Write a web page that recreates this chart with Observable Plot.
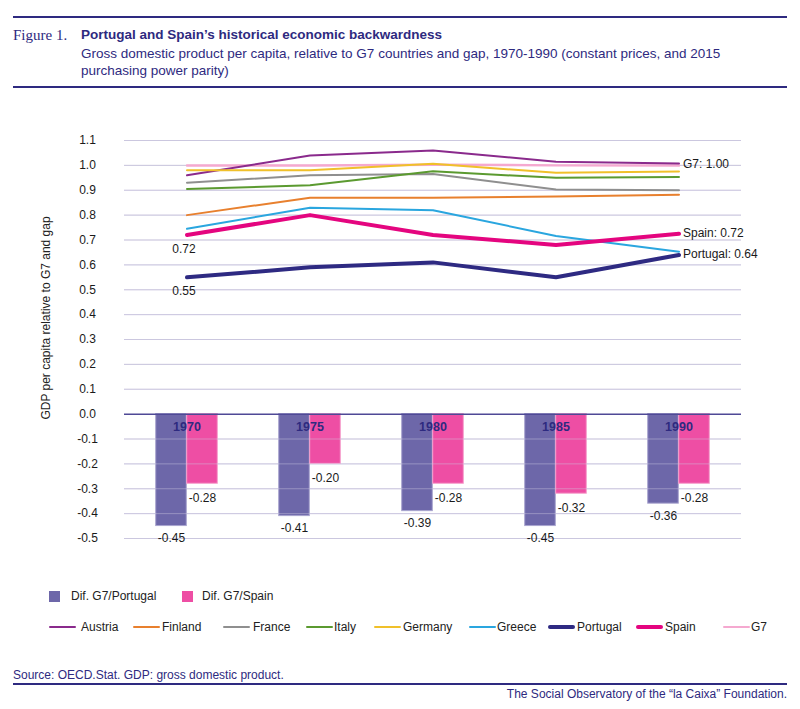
<!DOCTYPE html>
<html>
<head>
<meta charset="utf-8">
<script src="https://cdn.jsdelivr.net/npm/d3@7"></script>
<script src="https://cdn.jsdelivr.net/npm/@observablehq/plot@0.6"></script>
<style>
  html, body { margin: 0; padding: 0; background: #fff; }
  body { width: 800px; height: 709px; position: relative; overflow: hidden; font-family: "Liberation Sans", Arial, sans-serif; }
  .abs { position: absolute; white-space: nowrap; }
  .navy { color: #2e2a80; }
  .lg { position: absolute; font-size: 12px; line-height: 14px; color: #222; white-space: nowrap; }
  #chart { position: absolute; left: 0; top: 95px; }
  #header { position: absolute; left: 13px; top: 16px; width: 774px; height: 68px; border-top: 2px solid #2e2a80; border-bottom: 2px solid #2e2a80; }
</style>
</head>
<body>
<div id="header">
  <div class="abs navy" style="left:0px; top:8px; font-family:'Liberation Serif','DejaVu Serif',serif; font-size:15px; line-height:18px;">Figure 1.</div>
  <div class="abs navy" style="left:68px; top:8px; font-weight:bold; font-size:13.5px; line-height:18px;">Portugal and Spain’s historical economic backwardness</div>
  <div class="abs navy" style="left:68px; top:27px; font-size:13.5px; line-height:17px;">Gross domestic product per capita, relative to G7 countries and gap, 1970-1990 (constant prices, and 2015<br>purchasing power parity)</div>
</div>

<div class="abs" style="left:46px; top:318px; transform:translate(-50%,-50%) rotate(-90deg); font-size:12px; color:#222;">GDP per capita relative to G7 and gap</div>

<div id="chart"></div>
<div id="legend"></div>

<div class="abs navy" style="left:13px; top:668px; font-size:12px; line-height:14px;">Source: OECD.Stat. GDP: gross domestic product.</div>
<div style="position:absolute; left:13px; top:683px; width:774px; height:0; border-top:2px solid #2e2a80;"></div>
<div class="abs navy" style="right:13px; top:687px; font-size:12px; line-height:14px;">The Social Observatory of the “la Caixa” Foundation.</div>

<script>
// ---------- data ----------
const years = ["1970", "1975", "1980", "1985", "1990"];
const austria  = [0.96, 1.04, 1.06, 1.015, 1.008];
const finland  = [0.80, 0.87, 0.87, 0.875, 0.882];
const france   = [0.93, 0.96, 0.965, 0.903, 0.90];
const italy    = [0.905, 0.92, 0.976, 0.95, 0.953];
const germany  = [0.98, 0.98, 1.007, 0.97, 0.975];
const greece   = [0.745, 0.83, 0.82, 0.716, 0.653];
const portugal = [0.55, 0.59, 0.61, 0.55, 0.64];
const spain    = [0.72, 0.80, 0.72, 0.68, 0.725];
const g7       = [1.00, 1.00, 1.003, 1.00, 1.00];
const gapPortugal = [-0.45, -0.41, -0.39, -0.45, -0.36];
const gapSpain    = [-0.28, -0.20, -0.28, -0.32, -0.28];
const yTicks = [-0.5, -0.4, -0.3, -0.2, -0.1, 0.0, 0.1, 0.2, 0.3, 0.4, 0.5, 0.6, 0.7, 0.8, 0.9, 1.0, 1.1];
const seriesNames = ["G7", "Austria", "Finland", "France", "Italy", "Germany", "Greece", "Spain", "Portugal"];
const legendOrder = ["Austria", "Finland", "France", "Italy", "Germany", "Greece", "Portugal", "Spain", "G7"];
const barNames = ["Dif. G7/Portugal", "Dif. G7/Spain"];
const startLabels = ["0.72", "0.55"];
const endLabels = ["G7: 1.00", "Spain: 0.72", "Portugal: 0.64"];

// ---------- styles ----------
const seriesValues = {Austria: austria, Finland: finland, France: france, Italy: italy, Germany: germany, Greece: greece, Portugal: portugal, Spain: spain, G7: g7};
const colors = {Austria: "#8a2a8c", Finland: "#e8802e", France: "#8f8f8f", Italy: "#5b9a30", Germany: "#f0c02a", Greece: "#2aa6df", Portugal: "#2e2a82", Spain: "#e4057f", G7: "#f5a9d0"};
const widths = {Austria: 2, Finland: 2, France: 2, Italy: 2, Germany: 2, Greece: 2, Portugal: 4, Spain: 4, G7: 2.5};
const barColors = ["#6d67a9", "#ee4ea4"];
const barStroke = ["#a9a5cf", "#f6a0cc"];

const W = 800, ML = 124, MR = 59;
const band = (W - ML - MR) / years.length;
const barW = 31;

const lineRows = seriesNames.flatMap(name => years.map((y, i) => ({name, year: y, value: seriesValues[name][i]})));
const barRows = years.flatMap((y, i) => [
  {name: barNames[0], k: 0, year: y, value: gapPortugal[i]},
  {name: barNames[1], k: 1, year: y, value: gapSpain[i]}
]);

const startRows = [
  {year: years[0], value: spain[0], text: startLabels[0]},
  {year: years[0], value: portugal[0], text: startLabels[1]}
];
const last = years.length - 1;
const endRows = [
  {year: years[last], value: g7[last], text: endLabels[0]},
  {year: years[last], value: spain[last], text: endLabels[1]},
  {year: years[last], value: portugal[last], text: endLabels[2]}
];

const marks = [
  Plot.ruleY(yTicks.filter(d => d !== 0), {stroke: "#cbc7df", strokeWidth: 1}),
  ...[0, 1].map(k => Plot.barY(barRows.filter(d => d.k === k), {
    x: "year", y: "value", fill: barColors[k], stroke: barStroke[k], strokeWidth: 1,
    insetLeft: k === 0 ? band / 2 - barW : band / 2,
    insetRight: k === 0 ? band / 2 : band / 2 - barW
  })),
  Plot.ruleY(yTicks.filter(d => d !== 0), {stroke: "#cbc7df", strokeWidth: 1, strokeOpacity: 0.45}),
  Plot.ruleY([0], {stroke: "#4f4996", strokeWidth: 1.5}),
  Plot.text(years, {x: d => d, y: () => 0, dy: 13, text: d => d, fill: "#2e2a80", fontWeight: "bold", fontSize: 12.5}),
  ...[0, 1].map(k => Plot.text(barRows.filter(d => d.k === k), {
    x: "year", y: "value", dx: k === 0 ? -barW / 2 : barW / 2, dy: k === 0 ? 12 : 14,
    text: d => d.value.toFixed(2), fill: "#1a1a1a", fontSize: 12
  })),
  ...seriesNames.map(name => Plot.line(lineRows.filter(d => d.name === name), {
    x: "year", y: "value", stroke: colors[name], strokeWidth: widths[name], curve: "linear"
  })),
  Plot.text(startRows, {x: "year", y: "value", text: "text", dx: -3, dy: 14, fill: "#1a1a1a", fontSize: 12}),
  Plot.text(endRows, {x: "year", y: "value", text: "text", dx: 4, dy: -1, textAnchor: "start", fill: "#1a1a1a", fontSize: 12}),
  Plot.axisY({ticks: yTicks, tickFormat: d => d.toFixed(1), tickSize: 0, tickPadding: 37, textAnchor: "middle", label: null, fontSize: 12, color: "#1a1a1a"})
];

const chart = Plot.plot({
  width: W,
  height: 460,
  marginLeft: ML,
  marginRight: MR,
  marginTop: 45,
  marginBottom: 17,
  style: {fontFamily: "'Liberation Sans', Arial, sans-serif", fontSize: "12px", color: "#1a1a1a", background: "transparent", overflow: "visible"},
  x: {type: "band", domain: years, padding: 0, axis: null},
  y: {domain: [-0.5, 1.1], axis: null},
  marks
});
document.getElementById("chart").appendChild(chart);

// ---------- legend (HTML) ----------
const lg = document.getElementById("legend");
const barLegendX = [[49, 71], [182, 202]];
barNames.forEach((n, k) => {
  const sw = document.createElement("div");
  sw.style.cssText = `position:absolute;left:${barLegendX[k][0]}px;top:591px;width:11px;height:11px;background:${barColors[k]};`;
  lg.appendChild(sw);
  const t = document.createElement("div");
  t.className = "lg"; t.style.left = barLegendX[k][1] + "px"; t.style.top = "589px"; t.textContent = n;
  lg.appendChild(t);
});
const lineLegendX = {Austria: [49, 81], Finland: [133, 162], France: [223, 253], Italy: [306, 334], Germany: [374, 403], Greece: [469, 497], Portugal: [548, 577], Spain: [636, 665], G7: [723, 751]};
legendOrder.forEach(n => {
  const [x0, tx] = lineLegendX[n];
  const h = n === "Portugal" || n === "Spain" ? 4 : 2;
  const sw = document.createElement("div");
  sw.style.cssText = `position:absolute;left:${x0}px;top:${627 - h / 2}px;width:27px;height:${h}px;background:${colors[n]};border-radius:${h/2}px;`;
  lg.appendChild(sw);
  const t = document.createElement("div");
  t.className = "lg"; t.style.left = tx + "px"; t.style.top = "620px"; t.textContent = n;
  lg.appendChild(t);
});
</script>
</body>
</html>
